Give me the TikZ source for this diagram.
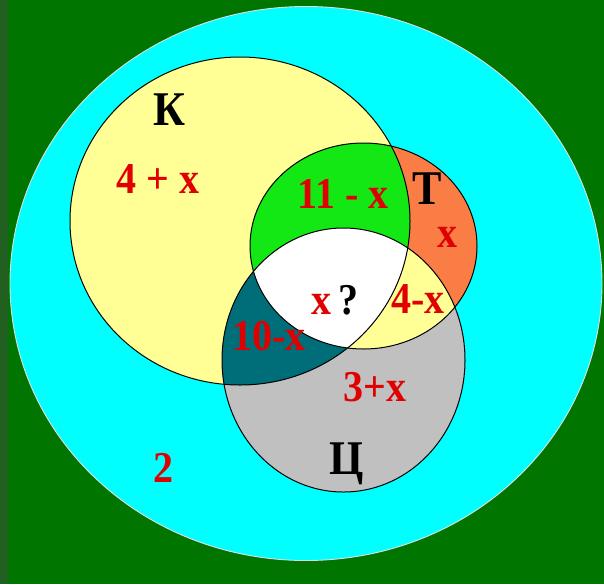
\documentclass[tikz,border=0pt]{standalone}
\usepackage{fontspec}
\setmainfont{Liberation Serif}
\definecolor{slidegreen}{RGB}{0,118,0}
\definecolor{edgegreen}{RGB}{34,96,34}
\definecolor{skycyan}{RGB}{0,255,255}
\definecolor{paleyellow}{RGB}{255,255,150}
\definecolor{coral}{RGB}{250,125,70}
\definecolor{lightgray}{RGB}{192,192,192}
\definecolor{limegreen}{RGB}{20,232,20}
\definecolor{darkteal}{RGB}{0,110,120}
\definecolor{labred}{RGB}{225,0,0}
\newcommand{\tallbox}[1]{\scalebox{1}[1.1]{#1}}
\begin{document}
\begin{tikzpicture}[x=1pt, y=-1pt, line cap=round, line join=round,
    num/.style={anchor=base, text=labred, font=\fontsize{40}{44}\selectfont\bfseries},
    setname/.style={anchor=base, text=black, font=\fontsize{44}{48}\selectfont\bfseries}]
  \useasboundingbox (0,0) rectangle (604,584);
  % фон слайда
  \fill[slidegreen] (0,0) rectangle (604,584);
  \fill[edgegreen] (0,0) rectangle (8,584);
  % центры множеств
  \coordinate (U) at (306,283.5);
  \coordinate (K) at (240,221);
  \coordinate (T) at (363.5,246);
  \coordinate (C) at (343.5,360);
  % универсальное множество
  \fill[skycyan] (U) ellipse [x radius=296, y radius=277];
  \draw[white!75!gray, line width=0.9pt] (U) ellipse [x radius=296, y radius=277];
  % круги К, Т, Ц
  \fill[paleyellow] (K) ellipse [x radius=170, y radius=164];
  \fill[coral] (T) ellipse [x radius=113.5, y radius=103];
  \fill[lightgray] (C) ellipse [x radius=121.5, y radius=132];
  % пересечения
  \begin{scope}
    \clip (T) ellipse [x radius=113.5, y radius=103];
    \fill[paleyellow] (C) ellipse [x radius=121.5, y radius=132];
  \end{scope}
  \begin{scope}
    \clip (K) ellipse [x radius=170, y radius=164];
    \fill[limegreen] (T) ellipse [x radius=113.5, y radius=103];
    \fill[darkteal] (C) ellipse [x radius=121.5, y radius=132];
    \clip (T) ellipse [x radius=113.5, y radius=103];
    \fill[white] (C) ellipse [x radius=121.5, y radius=132];
  \end{scope}
  \draw[line width=1pt] (K) ellipse [x radius=170, y radius=164];
  \draw[line width=1pt] (T) ellipse [x radius=113.5, y radius=103];
  \draw[line width=1pt] (C) ellipse [x radius=121.5, y radius=132];
  % названия множеств
  \node[setname] (nameK) at (169,125) {\tallbox{К}};
  \node[setname] (nameT) at (427,204) {\tallbox{Т}};
  \node[setname] (nameC) at (347,474) {\tallbox{Ц}};
  % числа в областях
  \node[num] (onlyK) at (158,193) {\tallbox{4 + x}};
  \node[num] (kt) at (343,208) {\tallbox{11 - x}};
  \node[num] (onlyT) at (447,247) {\tallbox{x}};
  \node[num] (ktc) at (335,314) {\tallbox{x\,{\color{black}?}}};
  \node[num] (tc) at (418,313) {\tallbox{4-x}};
  \node[num] (kc) at (269,350) {\tallbox{10-x}};
  \node[num] (onlyC) at (375,401) {\tallbox{3+x}};
  \node[num] (none) at (163,482) {\tallbox{2}};
\end{tikzpicture}
\end{document}
